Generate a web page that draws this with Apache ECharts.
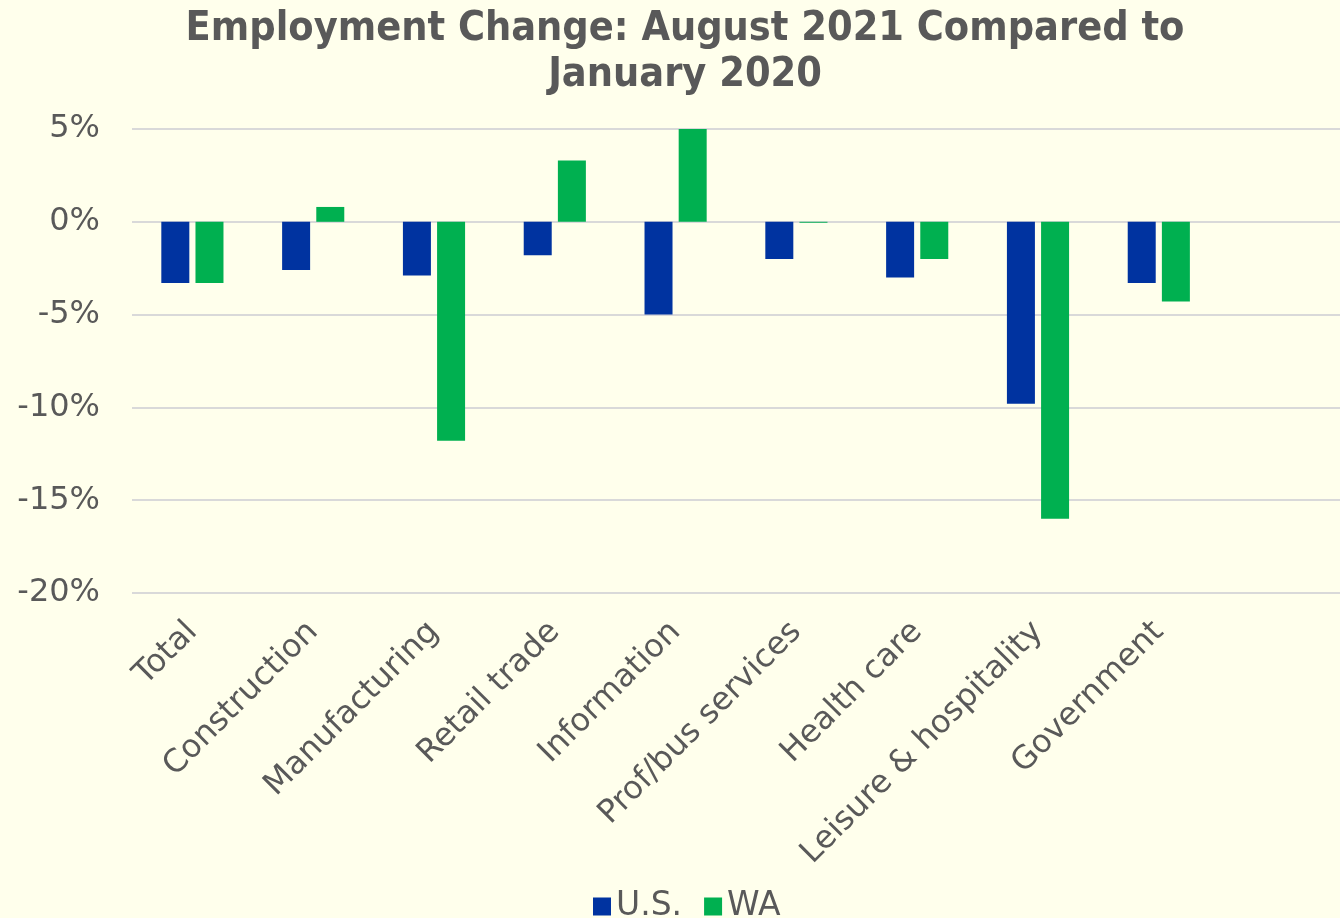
<!DOCTYPE html>
<html>
<head>
<meta charset="utf-8">
<script src="https://cdn.jsdelivr.net/npm/echarts@6/dist/echarts.min.js"></script>
<style>
html,body{margin:0;padding:0;background:#FFFFEC;}
#chart{width:1340px;height:918px;}
</style>
</head>
<body>
<div id="chart"></div>
<script>
const categories = ['Total','Construction','Manufacturing','Retail trade','Information','Prof/bus services','Health care','Leisure & hospitality','Government'];
const usValues = [-3.3, -2.6, -2.9, -1.8, -5.0, -2.0, -3.0, -9.8, -3.3];
const waValues = [-3.3, 0.8, -11.8, 3.3, 5.0, -0.05, -2.0, -16.0, -4.3];
const seriesNames = ['U.S.', 'WA'];
const yTicks = { min: -20, max: 5, interval: 5 };

const chart = echarts.init(document.getElementById('chart'), null, {renderer: 'canvas'});
const font = 'Verdana, "DejaVu Sans", sans-serif';
chart.setOption({
  backgroundColor: '#FFFFEC',
  animation: false,
  title: {
    text: 'Employment Change: August 2021 Compared to\nJanuary 2020',
    left: 680,
    textAlign: 'center',
    top: 1,
    textStyle: {
      fontFamily: '"DejaVu Sans Condensed", "DejaVu Sans", sans-serif',
      fontWeight: 'bold',
      fontSize: 41,
      lineHeight: 46,
      color: '#595959'
    }
  },
  legend: {
    data: seriesNames,
    bottom: -10,
    left: 588,
    icon: 'rect',
    itemWidth: 18,
    itemHeight: 18,
    itemGap: 22,
    textStyle: { fontFamily: font, fontSize: 33, color: '#595959' }
  },
  grid: { left: 132, right: 0, top: 129, bottom: 325, containLabel: false },
  xAxis: {
    type: 'category',
    data: categories.concat(['']),
    axisLine: { show: false },
    axisTick: { show: false },
    axisLabel: {
      rotate: 45,
      interval: 0,
      margin: 34,
      fontFamily: font,
      fontSize: 32,
      color: '#595959'
    }
  },
  yAxis: {
    type: 'value',
    min: yTicks.min,
    max: yTicks.max,
    interval: yTicks.interval,
    axisLine: { show: false },
    axisTick: { show: false },
    axisLabel: {
      margin: 32,
      fontFamily: font,
      fontSize: 32,
      color: '#595959',
      formatter: v => v + '%'
    },
    splitLine: { lineStyle: { color: '#D9D9D9', width: 2 } }
  },
  series: [
    { name: seriesNames[0], type: 'bar', data: usValues, barWidth: 28, barGap: '22%',
      itemStyle: { color: '#0033A0' } },
    { name: seriesNames[1], type: 'bar', data: waValues, barWidth: 28,
      itemStyle: { color: '#00B050' } }
  ]
});
</script>
</body>
</html>
